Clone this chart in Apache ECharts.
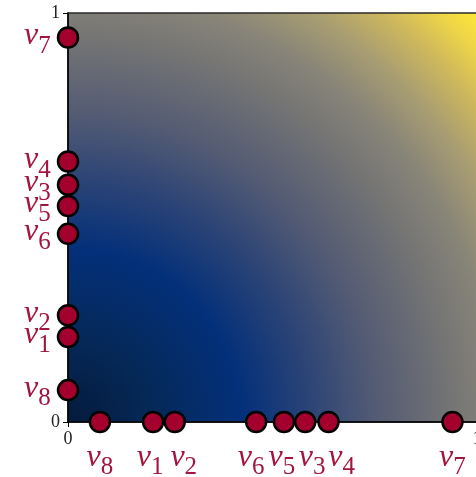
<!DOCTYPE html>
<html>
<head>
<meta charset="utf-8">
<script src="https://cdn.jsdelivr.net/npm/echarts@6/dist/echarts.min.js"></script>
<style>
  html, body { margin: 0; padding: 0; background: #ffffff; }
  #chart { width: 476px; height: 477px; }
</style>
</head>
<body>
<div id="chart"></div>
<script>
// vertex names and their scores (same score on both axes)
var vertices = ['1', '2', '3', '4', '5', '6', '7', '8'];
var scores = [0.208, 0.261, 0.580, 0.637, 0.528, 0.460, 0.940, 0.078];
var tickLabels = ['0', '1'];

// horizontal nudges (px) that keep the crowded labels under the x-axis apart
var bottomLabelShift = [-3, 9, 7, 13, -2, -5, 0, 0];

var markColor = '#a3002e';
var labelColor = '#a3153f';

var richV = {
  v: { fontFamily: 'Liberation Serif', fontStyle: 'italic', fontSize: 32, color: labelColor, lineHeight: 28, verticalAlign: 'bottom' },
  s: { fontFamily: 'Liberation Serif', fontSize: 25, color: labelColor, lineHeight: 28, verticalAlign: 'bottom', padding: [0, 0, -7, 0] }
};

function pointLabel(name) { return '{v|v}{s|' + name + '}'; }

var bottomPoints = vertices.map(function (n, i) { return { value: [scores[i], 0], name: n }; });
var leftPoints = vertices.map(function (n, i) { return { value: [0, scores[i]], name: n }; });

var chart = echarts.init(document.getElementById('chart'), null, { renderer: 'canvas' });

var axisCommon = {
  type: 'value', min: 0, max: 1, interval: 1,
  axisLine: { show: true, lineStyle: { color: '#000', width: 1.5 } },
  axisTick: { show: true, length: 5, lineStyle: { color: '#000', width: 1 } },
  splitLine: { show: false },
  axisLabel: {
    fontFamily: 'Liberation Serif', fontSize: 18, color: '#222', margin: 8,
    formatter: function (v) { return v === 0 ? tickLabels[0] : (v === 1 ? tickLabels[1] : ''); }
  }
};

chart.setOption({
  animation: false,
  grid: {
    left: 68, top: 13, width: 409, height: 409,
    outerBoundsMode: 'none',
    containLabel: false,
    show: true,
    borderColor: '#2a2a2a', borderWidth: 1.5,
    backgroundColor: new echarts.graphic.RadialGradient(0, 1, 1.414, [
      { offset: 0.00, color: '#041a3c' },
      { offset: 0.14, color: '#052856' },
      { offset: 0.30, color: '#03307a' },
      { offset: 0.42, color: '#2c4476' },
      { offset: 0.53, color: '#535b74' },
      { offset: 0.66, color: '#747474' },
      { offset: 0.74, color: '#878478' },
      { offset: 0.82, color: '#a89d72' },
      { offset: 0.90, color: '#d2bb5a' },
      { offset: 0.95, color: '#ecd449' },
      { offset: 1.00, color: '#ffe834' }
    ])
  },
  xAxis: axisCommon,
  yAxis: axisCommon,
  series: [
    {
      type: 'scatter', data: bottomPoints, symbolSize: 20, clip: false,
      itemStyle: { color: markColor, borderColor: '#000', borderWidth: 2.5, opacity: 1 },
      label: {
        show: true, position: 'bottom', distance: 12,
        formatter: function (p) { return pointLabel(p.name); }, rich: richV
      },
      labelLayout: function (params) {
        return { dx: bottomLabelShift[params.dataIndex] || 0, hideOverlap: false };
      }
    },
    {
      type: 'scatter', data: leftPoints, symbolSize: 20, clip: false,
      itemStyle: { color: markColor, borderColor: '#000', borderWidth: 2.5, opacity: 1 },
      label: {
        show: true, position: 'left', distance: 6, offset: [0, 5],
        formatter: function (p) { return pointLabel(p.name); }, rich: richV
      },
      labelLayout: { hideOverlap: false }
    }
  ]
});
</script>
</body>
</html>
